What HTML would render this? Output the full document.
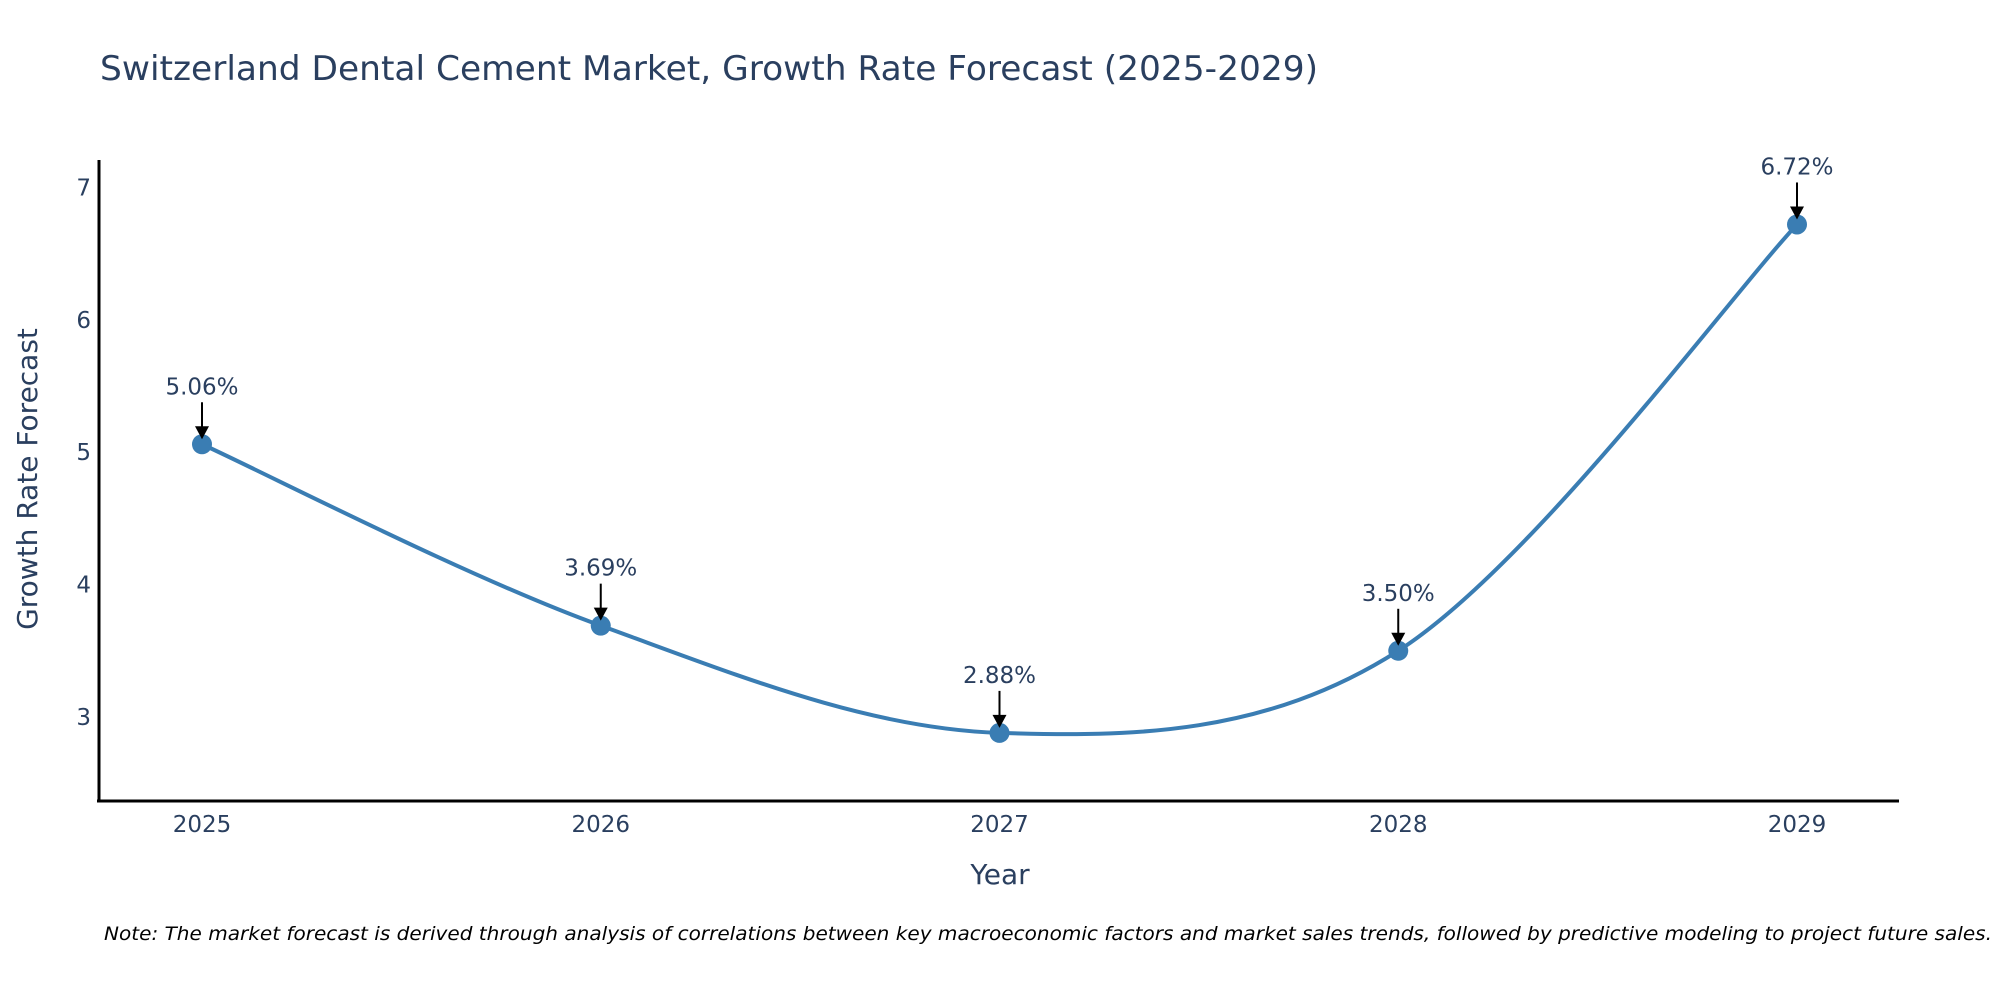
<!DOCTYPE html>
<html><head><meta charset="utf-8"><style>
html,body{margin:0;padding:0;background:#fff;}
svg{display:block;font-family:"DejaVu Sans","Liberation Sans",sans-serif;}
</style></head><body>
<svg id="chart" width="2000" height="1000" viewBox="0 0 2000 1000" xmlns="http://www.w3.org/2000/svg">
<rect width="2000" height="1000" fill="#fff"/>
<text x="100" y="80" font-size="34" fill="#2a3f5f" textLength="1218" lengthAdjust="spacingAndGlyphs">Switzerland Dental Cement Market, Growth Rate Forecast (2025-2029)</text>
<g id="plot"></g>
<line x1="99" y1="160" x2="99" y2="802" stroke="#000" stroke-width="3"/>
<line x1="97" y1="801" x2="1899" y2="801" stroke="#000" stroke-width="3"/>
<text transform="translate(37,479) rotate(-90)" text-anchor="middle" font-size="28" fill="#2a3f5f">Growth Rate Forecast</text>
<text x="1000" y="884" text-anchor="middle" font-size="28" fill="#2a3f5f">Year</text>
<text x="104" y="940" font-size="19" font-style="italic" fill="#000" textLength="1888" lengthAdjust="spacingAndGlyphs">Note: The market forecast is derived through analysis of correlations between key macroeconomic factors and market sales trends, followed by predictive modeling to project future sales.</text>
</svg>
<script>
const years = [2025, 2026, 2027, 2028, 2029];
const values = [5.06, 3.69, 2.88, 3.50, 6.72];
const labels = ["5.06%", "3.69%", "2.88%", "3.50%", "6.72%"];
const yTicks = [3, 4, 5, 6, 7];

const NS = "http://www.w3.org/2000/svg";
const g = document.getElementById("plot");
function xs(v){ return 202 + (v - 2025) * (1797 - 202) / 4; }
function ys(v){ return 717 - (v - 3) * 132.4; }
function mk(tag, attrs){ const e = document.createElementNS(NS, tag); for (const k in attrs) e.setAttribute(k, attrs[k]); g.appendChild(e); return e; }

yTicks.forEach(t => {
  const e = mk("text", {x: 91, y: ys(t) + 8, "text-anchor": "end", "font-size": 23, fill: "#2a3f5f"});
  
  
  e.textContent = t;
});
years.forEach(yr => {
  const e = mk("text", {x: xs(yr), y: 832, "text-anchor": "middle", "font-size": 23, fill: "#2a3f5f"});
  
  
  e.textContent = yr;
});

const pts = years.map((yr, i) => [xs(yr), ys(values[i])]);
let d = "M" + pts[0][0] + "," + pts[0][1];
for (let i = 0; i < pts.length - 1; i++) {
  const p0 = pts[Math.max(0, i - 1)], p1 = pts[i], p2 = pts[i + 1], p3 = pts[Math.min(pts.length - 1, i + 2)];
  const c1 = [p1[0] + (p2[0] - p0[0]) / 6, p1[1] + (p2[1] - p0[1]) / 6];
  const c2 = [p2[0] - (p3[0] - p1[0]) / 6, p2[1] - (p3[1] - p1[1]) / 6];
  d += " C" + c1[0] + "," + c1[1] + " " + c2[0] + "," + c2[1] + " " + p2[0] + "," + p2[1];
}
const line = mk("path", {d: d, fill: "none", stroke: "#3a7db3", "stroke-width": 4});



pts.forEach((p, i) => {
  const c = mk("circle", {cx: p[0], cy: p[1], r: 10, fill: "#3a7db3"});
  
  
  const a = mk("line", {x1: p[0], y1: p[1] - 42, x2: p[0], y2: p[1] - 16, stroke: "#000", "stroke-width": 2});
  
  
  const h = mk("polygon", {points: (p[0]-7)+","+(p[1]-18)+" "+(p[0]+7)+","+(p[1]-18)+" "+p[0]+","+(p[1]-5), fill: "#000"});
  
  
  const t = mk("text", {x: p[0], y: p[1] - 50, "text-anchor": "middle", "font-size": 23, fill: "#2a3f5f"});
  
  
  t.textContent = labels[i];
});
</script>
</body></html>
